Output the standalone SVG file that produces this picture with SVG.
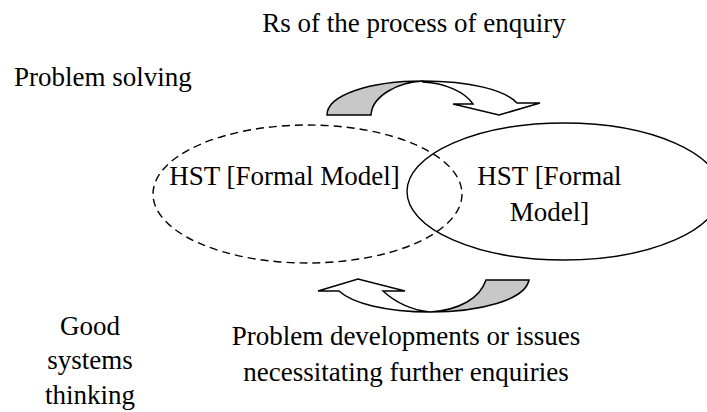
<svg xmlns="http://www.w3.org/2000/svg" width="707" height="412" viewBox="0 0 707 412">
<style>
  text { font-family: "Liberation Serif", "Times New Roman", serif; font-size: 27px; fill: #000; }
  .mid { text-anchor: middle; }
  .ell { fill: none; stroke: #000; stroke-width: 1.4; }
  .dash { stroke-dasharray: 8 5; }
  .band { stroke: #000; stroke-width: 1.5; stroke-linejoin: miter; }
  .shade { fill: #c8c8c8; }
  .white { fill: #fff; }
</style>
<rect width="707" height="412" fill="#fff"/>
<g id="label-top"><text class="mid" x="414" y="32">Rs of the process of enquiry</text></g>
<g id="label-problem-solving"><text x="14" y="86">Problem solving</text></g>
<g id="label-good-systems"><text class="mid" x="90" y="335">Good</text><text class="mid" x="90" y="369">systems</text><text class="mid" x="90" y="404">thinking</text></g>
<g id="label-bottom"><text class="mid" x="406" y="345">Problem developments or issues</text><text class="mid" x="406" y="381">necessitating further enquiries</text></g>
<g id="model-dashed"><ellipse class="ell dash" cx="307.5" cy="194" rx="154.5" ry="69"/><text class="mid" x="284.5" y="185">HST [Formal Model]</text></g>
<g id="model-solid"><ellipse class="ell" cx="564" cy="191.5" rx="157" ry="68.5"/><text class="mid" x="549.5" y="185">HST [Formal</text><text class="mid" x="549.5" y="221">Model]</text></g>
<g id="connectors">
  <path class="band shade" d="M327,115 C327,95 370,81 423,81 C398,82 372,96 371,115 Z"/>
  <path class="band white" d="M423,81 C470,81 505,90 517,103 L540,103 L499,115 L453,104 L473,104 C465,92 445,83 423,82 Z"/>
  <path class="band white" d="M430,312 C385,312 352,303 339,291 L318,291 L358,279 L405,291 L383,291 C395,302 412,310 430,312 Z"/>
  <path class="band shade" d="M430,312 C480,312 525,300 529,280 L486,280 C480,298 460,310 430,312 Z"/>
</g>
</svg>
